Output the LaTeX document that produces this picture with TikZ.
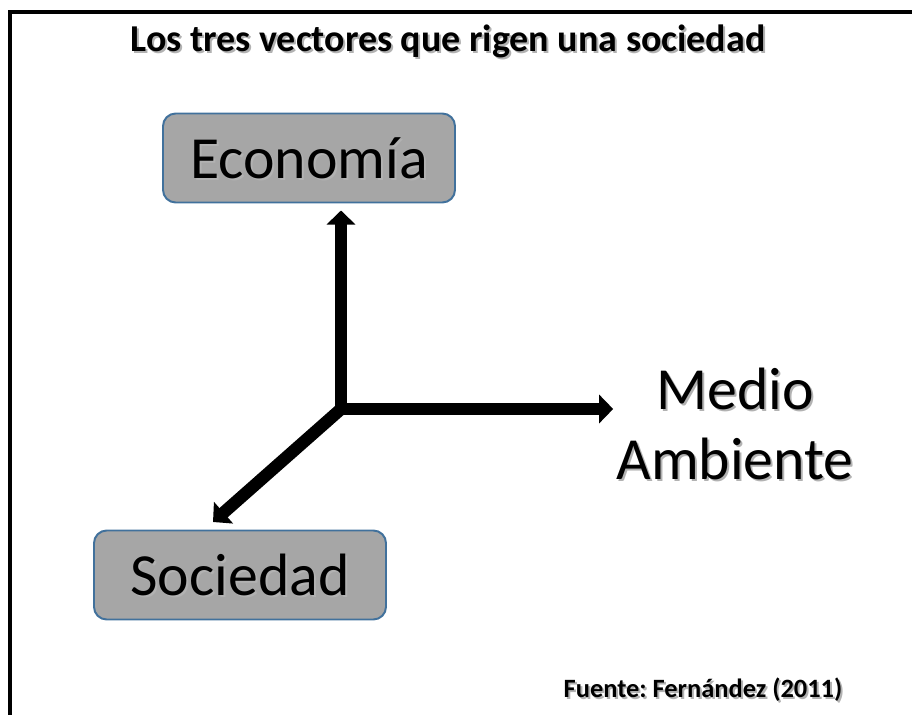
\documentclass[tikz,border=0pt]{standalone}
\usepackage{fontspec}
\setmainfont{Carlito}
\usepackage{tikz}
\usetikzlibrary{arrows, arrows.meta}

\definecolor{boxgray}{HTML}{A6A6A6}
\definecolor{boxblue}{HTML}{41719C}

\frenchspacing

% text with a soft drop shadow
\newcommand{\shd}[1]{\makebox[0pt][l]{\raisebox{-1.4pt}[0pt][0pt]{\hspace{1.4pt}\textcolor{black!30}{#1}}}#1}

\tikzset{
	vecbox/.style={draw=boxblue, line width=1.4pt, fill=boxgray, rounded corners=9pt,
		minimum width=292*0.025cm, minimum height=89*0.025cm, inner sep=0pt,
		font=\fontsize{42.5}{50}\selectfont},
	vec/.style={line width=8.8pt, -{Triangle[width=20pt,length=10pt]}}
}

\begin{document}
\begin{tikzpicture}[x=0.025cm, y=-0.025cm]
	\useasboundingbox (0,0) rectangle (912,715);
	
	%frame
	\draw[line width=2.8pt] (912,12) -- (10,12) -- (10,715);
	
	%labels
	\node (title) at (448,41) {\fontsize{27}{30}\selectfont\bfseries \shd{Los tres vectores que rigen una sociedad}};
	\node (src) at (703,690) {\fontsize{18.8}{22}\selectfont\bfseries \shd{Fuente: Fernández (2011)}};
	
	%boxes
	\node[vecbox] (eco) at (309,158) {\shd{Economía}};
	\node[vecbox] (soc) at (240,575) {\shd{Sociedad}};
	\node[align=center, inner sep=0pt, font=\fontsize{42.5}{50}\selectfont] (med) at (735,424) {\shd{Medio}\\\shd{Ambiente}};
	
	%vectors
	\coordinate (o) at (341,409);
	\coordinate (stip) at (213,522);
	\draw[vec, line cap=rect, shorten >=7*0.025cm] (o) -- (o |- eco.south);
	\draw[vec, line cap=rect, shorten >=3*0.025cm] (o) -- (o -| med.west);
	\draw[vec, line cap=rect] (o) -- (stip);
	
\end{tikzpicture}
\end{document}
